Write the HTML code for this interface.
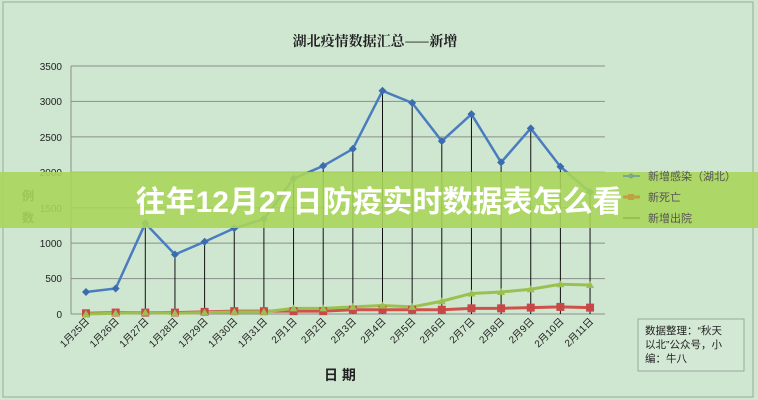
<!DOCTYPE html>
<html><head><meta charset="utf-8"><style>
html,body{margin:0;padding:0;width:758px;height:400px;overflow:hidden;background:#cfe7d1;}
svg{display:block}
text{font-family:"Liberation Sans","Noto Sans CJK SC",sans-serif;}
</style></head><body>
<svg width="758" height="400" viewBox="0 0 758 400" xmlns="http://www.w3.org/2000/svg">
<rect x="0" y="0" width="758" height="400" fill="#cfe7d1"/>
<rect x="3" y="2" width="750" height="395" fill="none" stroke="#9aa89c" stroke-width="1"/>
<text x="375" y="46" text-anchor="middle" font-size="14" font-weight="bold" style='font-family:"Noto Serif CJK SC",serif' fill="#222">湖北疫情数据汇总——新增</text>
<g stroke="#8a8f8a" stroke-width="1">
<line x1="71" y1="66" x2="605" y2="66"/><line x1="71" y1="101.4" x2="605" y2="101.4"/><line x1="71" y1="136.9" x2="605" y2="136.9"/><line x1="71" y1="172.3" x2="605" y2="172.3"/><line x1="71" y1="207.7" x2="605" y2="207.7"/><line x1="71" y1="243.1" x2="605" y2="243.1"/><line x1="71" y1="278.6" x2="605" y2="278.6"/><line x1="71" y1="314" x2="605" y2="314"/>
<line x1="71" y1="66" x2="71" y2="314"/>
</g>
<g font-size="10" fill="#222" text-anchor="end">
<text x="62" y="70">3500</text><text x="62" y="105">3000</text><text x="62" y="141">2500</text><text x="62" y="176">2000</text><text x="62" y="212">1500</text><text x="62" y="247">1000</text><text x="62" y="282">500</text><text x="62" y="318">0</text>
</g>
<text x="22" y="200" font-size="12" font-weight="bold" fill="#333">例</text>
<text x="22" y="222" font-size="12" font-weight="bold" fill="#333">数</text>
<g id="plot"></g>
<text x="340" y="380" font-size="14" font-weight="bold" fill="#222" text-anchor="middle">日 期</text>
<rect x="0" y="172" width="758" height="56" fill="#a9d55a" opacity="0.9"/>
<g font-size="11" fill="#555">
<line x1="623" y1="176" x2="640" y2="176" stroke="#7aa88a" stroke-width="2"/><circle cx="631" cy="176" r="2.5" fill="#7aa88a"/><text x="648" y="180">新增感染（湖北）</text>
<line x1="623" y1="197" x2="640" y2="197" stroke="#c0a040" stroke-width="3"/><rect x="628" y="194" width="6" height="6" fill="#c0a040"/><text x="648" y="201">新死亡</text>
<line x1="623" y1="218" x2="640" y2="218" stroke="#9cc050" stroke-width="2"/><text x="648" y="222">新增出院</text>
</g>
<text x="379" y="212" font-size="30" font-weight="bold" fill="#fff" text-anchor="middle">往年12月27日防疫实时数据表怎么看</text>
<rect x="638" y="319" width="106" height="52" fill="#d3e8d5" stroke="#9aa89c"/>
<g font-size="10.5" fill="#222"><text x="645" y="334">数据整理：“秋天</text><text x="645" y="348">以北”公众号，小</text><text x="645" y="362">编：牛八</text></g>
</svg>
<script>
const blue=[310,360,1280,840,1020,1210,1340,1910,2090,2330,3150,2980,2440,2820,2140,2620,2080,1720];
const red=[10,20,20,20,30,40,40,40,40,60,60,60,60,80,80,90,100,90];
const green=[0,10,20,10,20,30,30,80,80,100,120,100,180,290,310,350,420,410];
const labels=["1月25日","1月26日","1月27日","1月28日","1月29日","1月30日","1月31日","2月1日","2月2日","2月3日","2月4日","2月5日","2月6日","2月7日","2月8日","2月9日","2月10日","2月11日"];
const X=i=>86+i*29.65, Y=v=>314-v*248/3500;
let s="";
blue.forEach((v,i)=>{if(i>=2)s+=`<line x1="${X(i)}" y1="${Y(v)}" x2="${X(i)}" y2="314" stroke="#111" stroke-width="1"/>`;});
const pl=(a,c,w)=>`<polyline fill="none" stroke="${c}" stroke-width="${w}" points="${a.map((v,i)=>X(i)+','+Y(v)).join(' ')}"/>`;
s+=pl(red,"#d0504a",3)+pl(green,"#9cc050",3)+pl(blue,"#4a7cc0",2.5);
red.forEach((v,i)=>s+=`<rect x="${X(i)-4}" y="${Y(v)-4}" width="8" height="8" fill="#c84848"/>`);
green.forEach((v,i)=>s+=`<polygon points="${X(i)},${Y(v)-4} ${X(i)-4},${Y(v)+3} ${X(i)+4},${Y(v)+3}" fill="#9cc050"/>`);
blue.forEach((v,i)=>s+=`<polygon points="${X(i)},${Y(v)-4} ${X(i)+4},${Y(v)} ${X(i)},${Y(v)+4} ${X(i)-4},${Y(v)}" fill="#3a6cb0"/>`);
labels.forEach((l,i)=>s+=`<text x="${X(i)+4}" y="322" font-size="10" fill="#222" text-anchor="end" transform="rotate(-45 ${X(i)+4} 322)">${l}</text>`);
document.getElementById("plot").innerHTML=s;
</script>
</body></html>
